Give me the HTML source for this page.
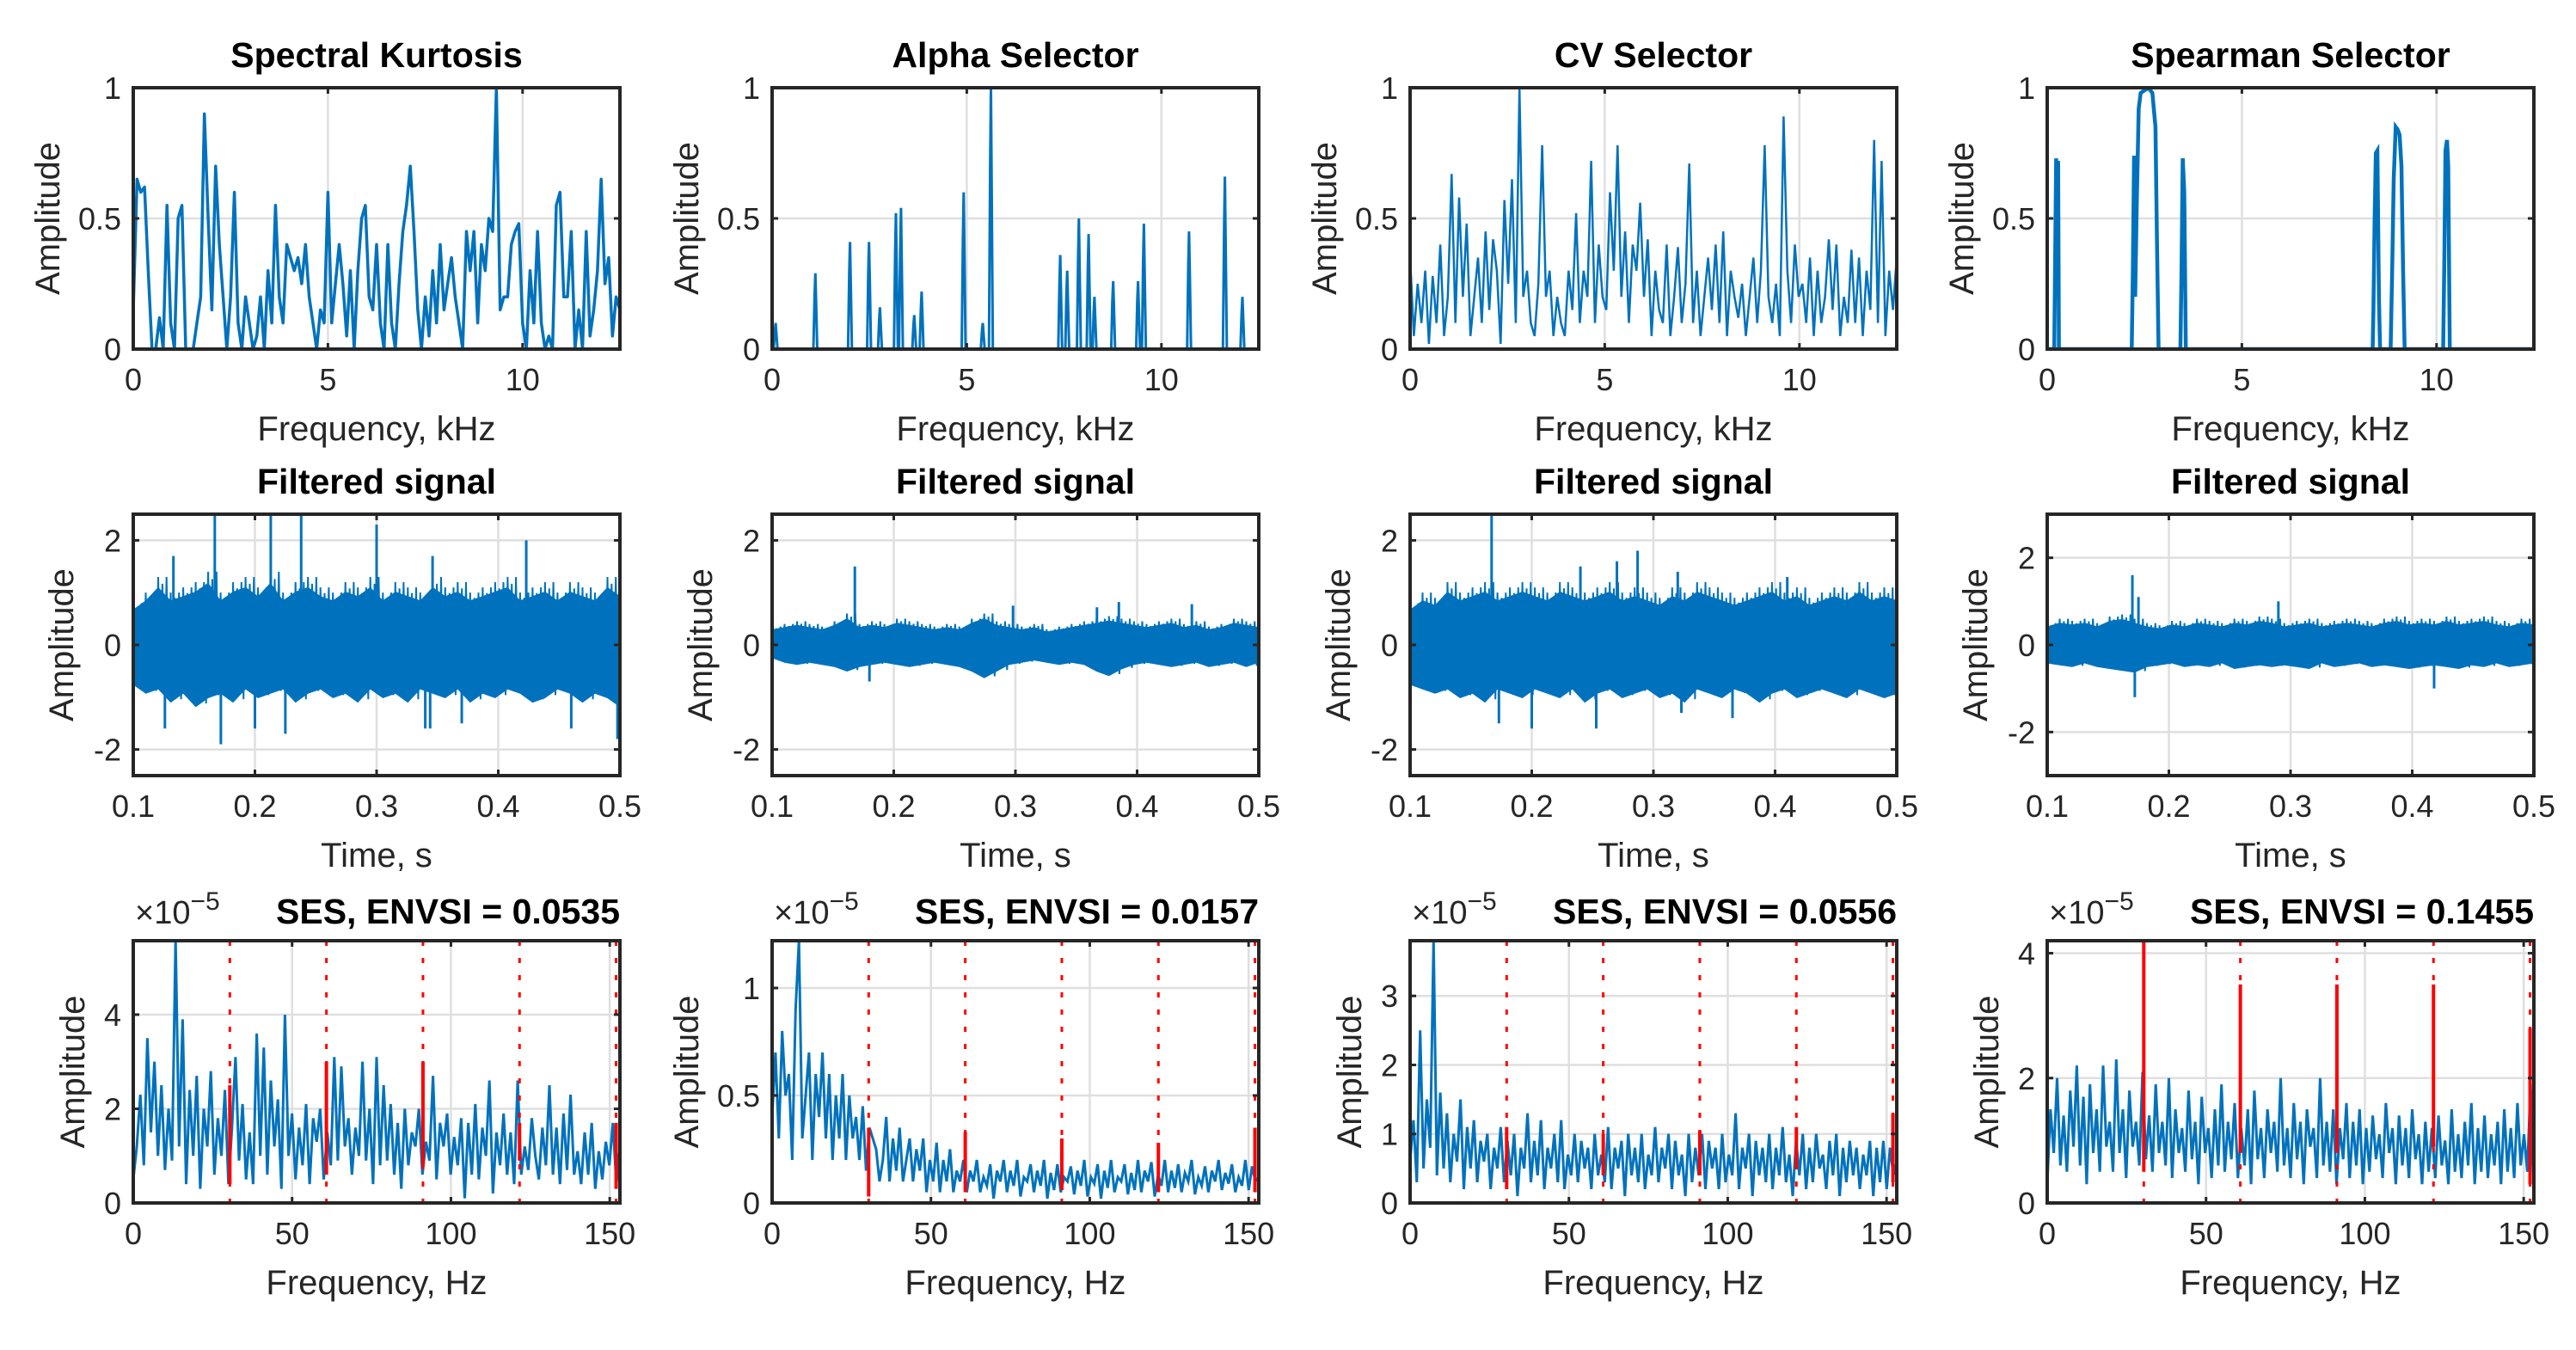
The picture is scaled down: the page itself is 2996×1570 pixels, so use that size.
<!DOCTYPE html>
<html><head><meta charset="utf-8">
<style>
html,body{margin:0;padding:0;background:#fff;}
svg{display:block;font-family:"Liberation Sans",Arial,sans-serif;}
</style></head>
<body>
<svg id="fig" width="2996" height="1570" viewBox="0 0 2996 1570" xmlns="http://www.w3.org/2000/svg"></svg>
<script>
// ---------- DATA ----------
const titlesTop = ["Spectral Kurtosis","Alpha Selector","CV Selector","Spearman Selector"];
const envsiValues = ["0.0535","0.0157","0.0556","0.1455"];
const kurtTicksX = [0,5,10];
const timeTicks = [0.1,0.2,0.3,0.4,0.5];
const sesTicksX = [0,50,100,150];

const skValues = [0.15,0.65,0.6,0.62,0.3,0,0,0.12,0,0.55,0.1,0,0.5,0.55,0,0,0,0.1,0.2,0.9,0.5,0.15,0.7,0.4,0.2,0,0.2,0.6,0.1,0,0.2,0.1,0,0.05,0.2,0,0.3,0.1,0.55,0.2,0.1,0.4,0.35,0.3,0.35,0.25,0.4,0.2,0.1,0,0.15,0.1,0.6,0.1,0.25,0.4,0.25,0.05,0.3,0,0.3,0.5,0.55,0.2,0.15,0.4,0.1,0,0.4,0.1,0,0.25,0.45,0.55,0.7,0.45,0.15,0,0.2,0.05,0.3,0.1,0.4,0.15,0.25,0.35,0.2,0.1,0,0.45,0.3,0.45,0.1,0.4,0.3,0.5,0.45,1.0,0.15,0.2,0.2,0.4,0.45,0.48,0.1,0,0.3,0.1,0.45,0.1,0,0.05,0,0.55,0.6,0.2,0.2,0.45,0,0.15,0,0.45,0.05,0.15,0.3,0.65,0.25,0.35,0.05,0.2,0.15];
const alphaFreq = [0.09,1.11,2.0,2.49,2.77,3.18,3.31,3.65,3.84,4.92,5.41,5.62,7.4,7.58,7.88,8.13,8.28,8.76,9.4,9.55,10.71,11.63,12.08];
const alphaAmp  = [0.1,0.29,0.41,0.41,0.16,0.52,0.54,0.13,0.22,0.6,0.1,1.0,0.36,0.3,0.5,0.44,0.2,0.26,0.26,0.48,0.45,0.66,0.2];
const cvValues = [0.35,0.05,0.25,0.1,0.3,0.02,0.28,0.1,0.4,0.05,0.2,0.67,0.1,0.58,0.2,0.48,0.05,0.2,0.35,0.1,0.45,0.15,0.42,0.3,0.02,0.57,0.25,0.65,0.1,1.0,0.2,0.3,0.1,0.05,0.25,0.78,0.2,0.3,0.05,0.2,0.1,0.05,0.3,0.15,0.52,0.1,0.3,0.2,0.72,0.1,0.4,0.2,0.15,0.6,0.3,0.78,0.2,0.45,0.1,0.4,0.3,0.56,0.2,0.42,0.05,0.3,0.15,0.1,0.4,0.05,0.2,0.39,0.1,0.25,0.71,0.1,0.3,0.05,0.2,0.35,0.15,0.4,0.1,0.45,0.05,0.3,0.2,0.12,0.25,0.05,0.2,0.35,0.1,0.3,0.78,0.2,0.1,0.25,0.05,0.89,0.3,0.1,0.4,0.2,0.25,0.1,0.35,0.05,0.3,0.1,0.2,0.42,0.15,0.4,0.05,0.2,0.1,0.38,0.1,0.35,0.05,0.3,0.15,0.8,0.1,0.72,0.05,0.3,0.15,0.35];
const spFreq = [0,0.18,0.2,0.23,0.25,0.28,0.3,2.17,2.2,2.23,2.26,2.3,2.35,2.4,2.5,2.6,2.7,2.78,2.82,2.86,3.42,3.45,3.48,3.52,3.56,8.36,8.38,8.41,8.44,8.48,8.52,8.55,8.82,8.86,8.9,8.95,9.0,9.05,9.1,9.14,9.18,10.17,10.2,10.23,10.27,10.3,10.34,12.5];
const spAmp  = [0,0,0.3,0.73,0.5,0.72,0,0,0.3,0.74,0.2,0.55,0.92,0.98,0.99,1.0,0.98,0.85,0.4,0,0,0.3,0.73,0.6,0,0,0.15,0.5,0.75,0.76,0.2,0,0,0.3,0.65,0.85,0.84,0.82,0.7,0.3,0,0,0.35,0.76,0.8,0.7,0,0];

const sigUpper1 = [0.8,1.0,1.3,1.0,1.1,1.2,1.4,1.0,1.2,1.3,1.1,1.4,1.0,1.2,1.3,1.1,1.0,1.2,1.1,1.3,1.0,1.2,1.1,1.0,1.3,1.1,1.2,1.0,1.1,1.2,1.3,1.0,1.1,1.2,1.0,1.2,1.1,1.0,1.3,1.1];
const sigLower1 = [-0.9,-1.1,-1.0,-1.3,-1.1,-1.4,-1.2,-1.1,-1.3,-1.0,-1.2,-1.1,-1.0,-1.3,-1.1,-1.0,-1.2,-1.1,-1.3,-1.0,-1.2,-1.1,-1.3,-1.0,-1.1,-1.2,-1.0,-1.3,-1.1,-1.2,-1.0,-1.1,-1.3,-1.2,-1.0,-1.1,-1.3,-1.1,-1.2,-1.4];
const spikeT1 = [0.133,0.167,0.213,0.238,0.3,0.346,0.344,0.423,0.126,0.172,0.2,0.225,0.34,0.37,0.46,0.498];
const spikeV1 = [1.7,2.5,2.5,2.5,2.3,1.7,-1.6,2.0,-1.6,-1.9,-1.6,-1.7,-1.6,-1.5,-1.6,-1.8];
const sigUpper2 = [0.35,0.4,0.45,0.4,0.35,0.45,0.6,0.4,0.45,0.4,0.5,0.45,0.4,0.35,0.4,0.35,0.5,0.6,0.45,0.4,0.35,0.4,0.3,0.35,0.4,0.45,0.5,0.55,0.5,0.45,0.4,0.45,0.5,0.4,0.45,0.35,0.4,0.5,0.45,0.4];
const sigLower2 = [-0.3,-0.4,-0.45,-0.4,-0.45,-0.5,-0.6,-0.5,-0.45,-0.4,-0.45,-0.5,-0.45,-0.4,-0.45,-0.5,-0.6,-0.75,-0.6,-0.45,-0.4,-0.35,-0.4,-0.45,-0.4,-0.45,-0.6,-0.7,-0.55,-0.45,-0.4,-0.45,-0.5,-0.45,-0.4,-0.5,-0.45,-0.4,-0.5,-0.4];
const spikeT2 = [0.168,0.18,0.298,0.367,0.385,0.445];
const spikeV2 = [1.5,-0.7,0.75,0.72,0.82,0.78];
const sigUpper3 = [0.8,1.0,0.9,1.2,1.0,1.1,1.2,1.0,1.1,1.2,1.1,1.0,1.2,1.1,1.0,1.1,1.2,1.0,1.1,1.0,0.9,1.1,1.0,1.2,1.1,1.0,0.9,1.0,1.1,1.2,1.0,1.1,0.9,1.0,1.1,1.0,1.2,1.0,1.1,1.0];
const sigLower3 = [-0.9,-1.0,-1.1,-1.0,-1.2,-1.1,-1.3,-1.0,-1.1,-1.2,-1.0,-1.1,-1.2,-1.0,-1.3,-1.1,-1.0,-1.2,-1.1,-1.0,-1.2,-1.1,-1.3,-1.0,-1.1,-1.2,-1.0,-1.1,-1.3,-1.1,-1.0,-1.2,-1.1,-1.0,-1.1,-1.2,-1.0,-1.1,-1.2,-1.1];
const spikeT3 = [0.167,0.24,0.27,0.287,0.32,0.41,0.5,0.173,0.2,0.253,0.323,0.365];
const spikeV3 = [2.5,1.5,1.6,1.8,1.4,1.3,1.4,-1.5,-1.6,-1.6,-1.3,-1.4];
const sigUpper4 = [0.5,0.6,0.55,0.6,0.5,0.65,0.7,0.6,0.5,0.45,0.55,0.5,0.6,0.55,0.5,0.6,0.55,0.65,0.6,0.5,0.55,0.6,0.5,0.55,0.6,0.55,0.5,0.6,0.65,0.55,0.6,0.55,0.65,0.55,0.6,0.65,0.55,0.5,0.6,0.55];
const sigLower4 = [-0.5,-0.55,-0.6,-0.5,-0.6,-0.65,-0.7,-0.75,-0.6,-0.55,-0.5,-0.6,-0.55,-0.6,-0.5,-0.65,-0.6,-0.55,-0.6,-0.55,-0.6,-0.65,-0.5,-0.6,-0.55,-0.5,-0.6,-0.55,-0.6,-0.65,-0.6,-0.55,-0.6,-0.65,-0.55,-0.6,-0.5,-0.6,-0.55,-0.5];
const spikeT4 = [0.17,0.175,0.29,0.172,0.418];
const spikeV4 = [1.6,1.1,1.0,-1.2,-1.0];

const ses1 = [0.5,1.2,2.3,0.8,3.5,1.5,3.0,1.0,2.5,0.7,2.0,0.9,5.6,1.2,3.9,0.4,2.4,1.0,2.7,0.3,2.0,1.2,2.8,0.6,1.8,1.0,2.4,0.4,1.6,3.1,0.9,2.1,0.5,1.5,0.4,3.6,1.0,3.3,0.6,2.6,1.2,2.2,0.3,4.0,1.0,1.9,0.5,1.6,0.8,2.1,0.4,1.8,1.3,2.0,0.5,1.5,0.8,3.1,0.9,2.9,1.2,1.8,0.6,1.6,1.0,3.0,0.9,2.0,0.4,3.1,0.8,2.5,0.9,2.1,0.6,1.7,0.3,2.0,0.8,1.5,1.2,2.0,0.6,1.3,0.9,2.7,0.5,1.7,1.2,1.9,0.6,1.4,0.8,1.8,0.1,1.7,0.6,2.1,0.5,1.6,1.0,2.6,0.2,1.5,0.8,1.9,0.6,1.5,0.4,2.6,0.6,1.2,0.7,1.8,1.0,0.5,1.6,0.8,2.5,0.6,1.6,0.4,1.9,0.7,2.3,0.6,1.1,0.4,1.5,0.6,1.7,0.3,1.1,0.5,1.3,0.8,1.7,0.4,1.2];
const ses2 = [0.4,0.7,0.3,0.8,0.5,0.6,0.2,0.9,1.22,0.3,0.5,0.7,0.2,0.6,0.4,0.7,0.3,0.6,0.2,0.5,0.3,0.6,0.2,0.5,0.3,0.4,0.2,0.45,0.15,0.35,0.3,0.25,0.1,0.2,0.4,0.1,0.3,0.15,0.35,0.1,0.2,0.3,0.1,0.25,0.15,0.3,0.05,0.2,0.1,0.28,0.05,0.2,0.1,0.25,0.05,0.15,0.1,0.2,0.05,0.15,0.1,0.2,0.05,0.12,0.08,0.18,0.02,0.15,0.1,0.2,0.05,0.15,0.08,0.2,0.03,0.12,0.1,0.18,0.05,0.15,0.08,0.2,0.02,0.14,0.06,0.18,0.05,0.12,0.1,0.17,0.04,0.15,0.08,0.2,0.03,0.12,0.09,0.18,0.02,0.15,0.07,0.2,0.05,0.12,0.1,0.18,0.04,0.14,0.06,0.2,0.05,0.15,0.1,0.19,0.03,0.13,0.08,0.2,0.05,0.15,0.07,0.18,0.05,0.14,0.1,0.2,0.04,0.12,0.08,0.17,0.05,0.15,0.1,0.2,0.06,0.14,0.09,0.18,0.05,0.12,0.08,0.2,0.06,0.17,0.1,0.12];
const ses3 = [0.6,1.2,0.3,2.5,0.5,1.5,0.8,3.8,0.4,1.6,0.5,1.3,0.3,1.0,0.6,1.5,0.2,1.1,0.5,1.2,0.3,0.9,0.6,1.0,0.2,0.8,0.5,1.1,0.3,0.9,0.4,1.0,0.1,0.8,0.5,1.3,0.3,0.9,0.4,1.2,0.2,0.8,0.5,1.0,0.3,1.2,0.2,0.7,0.4,1.0,0.3,0.9,0.5,0.8,0.2,1.0,0.4,0.7,0.3,1.1,0.2,0.8,0.5,0.9,0.1,1.0,0.4,0.8,0.3,1.0,0.2,0.7,0.4,1.1,0.3,0.8,0.5,1.0,0.2,0.9,0.4,0.7,0.1,1.0,0.3,0.8,0.4,1.0,0.2,0.9,0.5,0.8,0.2,1.0,0.3,0.7,0.4,1.3,0.2,0.8,0.5,1.0,0.1,0.9,0.4,0.8,0.3,1.0,0.2,0.8,0.4,1.1,0.3,0.7,0.1,0.9,0.4,1.0,0.2,0.8,0.3,1.0,0.5,0.7,0.2,0.9,0.4,1.0,0.1,0.8,0.3,0.9,0.4,0.8,0.2,0.7,0.4,0.9,0.1,0.8,0.3,0.9,0.2,0.8,0.4,0.6];
const ses4 = [0.3,1.5,0.8,2.0,0.6,1.4,0.5,1.8,0.9,2.2,0.6,1.7,0.3,1.9,0.8,1.5,0.5,2.2,0.9,1.3,0.5,2.3,0.8,1.5,0.4,1.8,0.9,1.3,0.6,2.1,0.7,1.4,0.5,1.9,0.8,1.3,0.6,2.0,0.4,1.5,0.8,1.2,0.5,1.8,0.7,1.3,0.3,1.7,0.8,1.2,0.4,1.5,0.6,1.9,0.5,1.3,0.7,1.6,0.4,1.2,0.6,1.5,0.3,1.8,0.7,1.2,0.4,1.5,0.8,1.3,0.5,2.0,0.6,1.2,0.4,1.6,0.7,1.3,0.3,1.5,0.9,1.2,0.4,2.0,0.6,1.3,0.5,1.5,0.3,1.2,0.7,1.6,0.4,1.3,0.6,1.5,0.3,1.2,0.5,1.4,0.7,1.1,0.4,1.6,0.8,1.2,0.3,1.4,0.6,1.2,0.4,1.5,0.7,1.1,0.3,1.3,0.5,1.2,0.4,1.4,0.6,1.0,0.3,1.5,0.5,1.1,0.4,1.3,0.6,1.6,0.3,1.2,0.5,1.4,0.4,1.1,0.6,1.3,0.3,1.5,0.5,1.2,0.4,1.6,0.6,1.1,0.5,1.9,0.2];
const harmFreq = [30.4,60.8,91.2,121.6,152];
const harmHi1 = [2.5,3.0,3.0,1.7,1.7]; const harmLo1 = [0.4,0.6,0.8,0.9,0.3];
const harmHi2 = [0.35,0.33,0.3,0.28,0.35]; const harmLo2 = [0.03,0.05,0.06,0.05,0.05];
const harmHi3 = [1.1,1.0,1.05,1.1,1.3]; const harmLo3 = [0.2,0.4,0.4,0.5,0.3];
const harmHi4 = [4.2,3.5,3.5,3.5,2.8]; const harmLo4 = [0.5,0.8,0.8,0.9,0.3];

// ---------- LAYOUT ----------
const NS = "http://www.w3.org/2000/svg";
const svg = document.getElementById("fig");
const colL = [155,898,1640,2381], W = 566;
const rowT = [102,598,1094], H = [304,304,305];
const BLUE = "#0072BD";
function el(tag, attrs, parent, text){
  const e = document.createElementNS(NS, tag);
  for (const k in attrs) e.setAttribute(k, attrs[k]);
  if (text !== undefined) e.textContent = text;
  (parent || svg).appendChild(e);
  return e;
}
function makeAxes(c, r, xmin, xmax, ymin, ymax, xticks, yticks, xlab, title, ylOff){
  const L = colL[c], T = rowT[r], h = H[r];
  const g = el("g", {});
  
  
  const sx = v => L + (v - xmin) / (xmax - xmin) * W;
  const sy = v => T + h - (v - ymin) / (ymax - ymin) * h;
  xticks.forEach(t => { const x = sx(t); if (x > L+1 && x < L+W-1) el("line",{x1:x,x2:x,y1:T,y2:T+h,stroke:"#dfdfdf","stroke-width":2.5},g); });
  yticks.forEach(t => { const y = sy(t); if (y > T+1 && y < T+h-1) el("line",{x1:L,x2:L+W,y1:y,y2:y,stroke:"#dfdfdf","stroke-width":2.5},g); });
  const data = el("g", {}, g);
  
  
  const cp = "cp"+r+c;
  const defs = el("defs",{},g); const clip = el("clipPath",{id:cp},defs);
  el("rect",{x:L,y:T,width:W,height:h},clip);
  data.setAttribute("clip-path","url(#"+cp+")");
  const fin = () => {
    el("rect",{x:L,y:T,width:W,height:h,fill:"none",stroke:"#262626","stroke-width":4},g);
    xticks.forEach(t => { const x = sx(t);
      el("line",{x1:x,x2:x,y1:T+h,y2:T+h-7,stroke:"#262626","stroke-width":3},g);
      el("line",{x1:x,x2:x,y1:T,y2:T+7,stroke:"#262626","stroke-width":3},g);
      const tl = el("text",{x:x,y:T+h+48,"text-anchor":"middle","font-size":36,fill:"#262626"},g,String(t));
      
      
    });
    yticks.forEach(t => { const y = sy(t);
      el("line",{x1:L,x2:L+7,y1:y,y2:y,stroke:"#262626","stroke-width":3},g);
      el("line",{x1:L+W,x2:L+W-7,y1:y,y2:y,stroke:"#262626","stroke-width":3},g);
      const tl = el("text",{x:L-14,y:y+13,"text-anchor":"end","font-size":36,fill:"#262626"},g,String(t));
      
      
    });
    const xl = el("text",{x:L+W/2,y:T+h+106,"text-anchor":"middle","font-size":40,fill:"#262626"},g,xlab);
    
    
    const yx = L - ylOff;
    const yl = el("text",{x:yx,y:T+h/2,"text-anchor":"middle","font-size":40,fill:"#262626",transform:"rotate(-90 "+yx+" "+(T+h/2)+")"},g,"Amplitude");
    
    
    if (r < 2) {
      const tt = el("text",{x:L+W/2,y:T-24,"text-anchor":"middle","font-size":41,"font-weight":"bold",fill:"#000"},g,title);
      
      
    } else {
      const ex = el("text",{x:L+2,y:T-20,"font-size":38,fill:"#262626"},g);
      
      
      ex.innerHTML = '×10<tspan dy="-16" font-size="30">−5</tspan>';
      const tt = el("text",{x:L+W,y:T-20,"text-anchor":"end","font-size":41,"font-weight":"bold",fill:"#000"},g,title);
      
      
    }
  };
  return {sx, sy, data, fin};
}
function linePath(xs, ys, ax){
  return xs.map((x,i)=> (i?"L":"M") + ax.sx(x).toFixed(1) + " " + ax.sy(ys[i]).toFixed(1)).join("");
}
function even(n, a, b){ const o=[]; for(let i=0;i<n;i++) o.push(a + (b-a)*i/(n-1)); return o; }

// ---------- ROW 1 ----------
const kAx = [];
for (let c=0;c<4;c++) kAx.push(makeAxes(c,0,0,12.5,0,1,kurtTicksX,[0,0.5,1],"Frequency, kHz",titlesTop[c],86));
let p;
p = el("path",{d:linePath(even(skValues.length,0,12.5),skValues,kAx[0]),fill:"none",stroke:BLUE,"stroke-width":3.5,"stroke-linejoin":"round"},kAx[0].data);
 
{
  const xs=[0], ys=[0];
  alphaFreq.forEach((f,i)=>{ xs.push(f-0.05,f-0.02,f,f+0.02,f+0.05); ys.push(0,alphaAmp[i]*0.7,alphaAmp[i],alphaAmp[i]*0.6,0); });
  xs.push(12.5); ys.push(0);
  p = el("path",{d:linePath(xs,ys,kAx[1]),fill:"none",stroke:BLUE,"stroke-width":3},kAx[1].data);
   
}
p = el("path",{d:linePath(even(cvValues.length,0,12.5),cvValues,kAx[2]),fill:"none",stroke:BLUE,"stroke-width":2.5},kAx[2].data);
 
p = el("path",{d:linePath(spFreq,spAmp,kAx[3]),fill:"none",stroke:BLUE,"stroke-width":4.5},kAx[3].data);
 
kAx.forEach(a=>a.fin());

// ---------- ROW 2 ----------
const sigU=[sigUpper1,sigUpper2,sigUpper3,sigUpper4], sigL=[sigLower1,sigLower2,sigLower3,sigLower4];
const spT=[spikeT1,spikeT2,spikeT3,spikeT4], spV=[spikeV1,spikeV2,spikeV3,spikeV4];
for (let c=0;c<4;c++){
  const lim = c===3 ? 3 : 2.5;
  const yt = [-2,0,2];
  const ax = makeAxes(c,1,0.1,0.5,-lim,lim,timeTicks,yt,"Time, s","Filtered signal",70);
  const U=sigU[c], Lo=sigL[c];
  const xs=[], ys=[];
  const n=U.length;
  for (let i=0;i<n;i++){
    const t0 = 0.1 + 0.4*i/(n-1);
    for (let k=0;k<6;k++){
      const t = Math.min(0.5, t0 + k*0.4/(n-1)/6);
      const f = [1,0.7,0.9,0.6,1,0.8][k];
      xs.push(t); ys.push(k%2===0 ? U[i]*f : Lo[i]*f);
    }
  }
  const band = el("path",{d:linePath(xs,ys,ax),fill:"none",stroke:BLUE,"stroke-width":2},ax.data);
  
  
  const fx = even(n,0.1,0.5);
  const d = linePath(fx,U.map(v=>v*0.85),ax) + linePath(fx.slice().reverse(),Lo.map(v=>v*0.85).reverse(),ax).replace("M","L") + "Z";
  const fill = el("path",{d:d,fill:BLUE},ax.data);
  
  
  spT[c].forEach((t,i)=>{
    const s = el("line",{x1:ax.sx(t),x2:ax.sx(t),y1:ax.sy(0),y2:ax.sy(spV[c][i]),stroke:BLUE,"stroke-width":3},ax.data);
    
    
  });
  ax.fin();
}

// ---------- ROW 3 ----------
const sesData=[ses1,ses2,ses3,ses4];
const sesYmax=[5.57,1.22,3.8,4.2];
const sesYticks=[[0,2,4],[0,0.5,1],[0,1,2,3],[0,2,4]];
const hHi=[harmHi1,harmHi2,harmHi3,harmHi4], hLo=[harmLo1,harmLo2,harmLo3,harmLo4];
for (let c=0;c<4;c++){
  const ax = makeAxes(c,2,0,153.2,0,sesYmax[c],sesTicksX,sesYticks[c],"Frequency, Hz","SES, ENVSI = "+envsiValues[c], c===1 ? 86 : 57);
  const s = el("path",{d:linePath(even(sesData[c].length,0,153.2),sesData[c],ax),fill:"none",stroke:BLUE,"stroke-width":3},ax.data);
  
  
  harmFreq.forEach((f,i)=>{
    const x = ax.sx(f);
    const dl = el("line",{x1:x,x2:x,y1:rowT[2],y2:rowT[2]+H[2],stroke:"#ff0000","stroke-width":3,"stroke-dasharray":"6 14"},ax.data);
    
    
    const seg = el("line",{x1:x,x2:x,y1:ax.sy(hLo[c][i]),y2:ax.sy(hHi[c][i]),stroke:"#ff0000","stroke-width":4},ax.data);
    
    
  });
  ax.fin();
}
</script>
</body></html>
